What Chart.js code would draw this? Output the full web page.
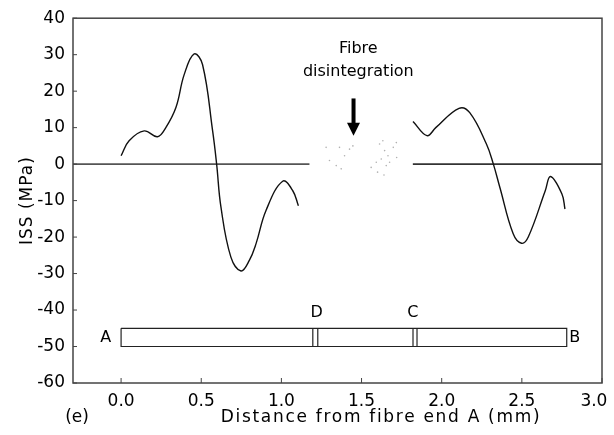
<!DOCTYPE html>
<html>
<head>
<meta charset="utf-8">
<script src="https://cdn.jsdelivr.net/npm/chart.js@4.4.1/dist/chart.umd.min.js"></script>
<style>
  body { margin: 0; background: #fff; }
</style>
</head>
<body>
<canvas id="myChart" width="614" height="435"></canvas>
<script>
// curve left of the break (distance in mm, ISS in MPa)
const leftX = [0.0, 0.05, 0.144, 0.227, 0.279, 0.342, 0.394, 0.456, 0.508, 0.571, 0.596, 0.623, 0.685, 0.748, 0.80, 0.842, 0.904, 1.008, 1.071, 1.106];
const leftY = [2.3, 6.4, 9.1, 7.5, 10.0, 15.5, 24.6, 30.2, 27.3, 9.1, 0, -11.8, -25.5, -29.3, -26.4, -21.8, -12.7, -4.7, -7.3, -11.4];

// curve right of the break
const rightX = [1.821, 1.908, 1.963, 2.108, 2.175, 2.279, 2.321, 2.363, 2.446, 2.498, 2.54, 2.646, 2.679, 2.75, 2.769];
const rightY = [11.7, 7.8, 10.0, 15.3, 14.1, 5.5, 0.2, -6.4, -19.1, -21.7, -20.0, -7.3, -3.4, -8.2, -12.3];

// faint debris where the fibre broke up
const debrisX = [1.279, 1.3625, 1.394, 1.446, 1.425, 1.342, 1.373, 1.30, 1.6125, 1.644, 1.665, 1.623, 1.698, 1.719, 1.592, 1.654, 1.633, 1.675, 1.56, 1.717, 1.64, 1.60];
const debrisY = [4.6, 4.6, 2.3, 5.0, 4.1, -0.4, -1.3, 1.0, 5.5, 3.7, 2.3, 1.4, 4.6, 1.8, 0.5, -0.4, 6.4, 0.5, -0.9, 5.9, -3.0, -2.2];

// zero line pieces
const zeroLeft = [-0.3, 1.175];
const zeroRight = [1.82, 3.0];

// fibre sketch
const fibreX = [0, 2.78];
const fibreY = [-45, -50];
const markD = [1.196, 1.227];
const markC = [1.821, 1.846];

const xTicks = [0.0, 0.5, 1.0, 1.5, 2.0, 2.5, 3.0];
const yTicks = [-60, -50, -40, -30, -20, -10, 0, 10, 20, 30, 40];

const arrowX = 1.45;
const arrowY = [18, 7.8];

const FONT = "'DejaVu Sans', sans-serif";

function pts(xs, ys) {
  var out = [];
  for (var i = 0; i < xs.length; i++) {
    out.push({x: xs[i], y: ys[i]});
  }
  return out;
}

function vline(x) {
  return [{x: x, y: fibreY[0]}, {x: x, y: fibreY[1]}];
}

var straight = {showLine: true, pointRadius: 0, borderColor: '#222', borderWidth: 1.2, tension: 0};

var datasets = [
  {data: pts(leftX, leftY), showLine: true, pointRadius: 0, borderColor: '#111', borderWidth: 1.4, tension: 0.4},
  {data: pts(rightX, rightY), showLine: true, pointRadius: 0, borderColor: '#111', borderWidth: 1.4, tension: 0.4},
  Object.assign({data: [{x: zeroLeft[0], y: 0}, {x: zeroLeft[1], y: 0}]}, straight, {borderColor: '#555', borderWidth: 1.6}),
  Object.assign({data: [{x: zeroRight[0], y: 0}, {x: zeroRight[1], y: 0}]}, straight, {borderColor: '#333', borderWidth: 1.6}),
  Object.assign({data: [
    {x: fibreX[0], y: fibreY[0]}, {x: fibreX[1], y: fibreY[0]},
    {x: fibreX[1], y: fibreY[1]}, {x: fibreX[0], y: fibreY[1]},
    {x: fibreX[0], y: fibreY[0]}
  ]}, straight),
  Object.assign({data: vline(markD[0])}, straight),
  Object.assign({data: vline(markD[1])}, straight),
  Object.assign({data: vline(markC[0])}, straight),
  Object.assign({data: vline(markC[1])}, straight),
  {data: pts(debrisX, debrisY), showLine: false, pointRadius: 0.8, borderWidth: 0, backgroundColor: '#b0b0b0'}
];

// labels, arrow, frame and inward ticks
var extras = {
  id: 'extras',
  afterDraw: function(chart) {
    var ctx = chart.ctx;
    var xs = chart.scales.x, ys = chart.scales.y;
    var a = chart.chartArea;
    ctx.save();

    // frame
    ctx.strokeStyle = '#444';
    ctx.lineWidth = 1.5;
    ctx.strokeRect(a.left, a.top, a.right - a.left, a.bottom - a.top);

    // inward ticks
    ctx.lineWidth = 1;
    xTicks.forEach(function(v) {
      var px = xs.getPixelForValue(v);
      ctx.beginPath(); ctx.moveTo(px, a.bottom); ctx.lineTo(px, a.bottom - 5); ctx.stroke();
    });
    yTicks.forEach(function(v) {
      var py = ys.getPixelForValue(v);
      ctx.beginPath(); ctx.moveTo(a.left, py); ctx.lineTo(a.left + 4, py); ctx.stroke();
    });

    // arrow
    var ax = xs.getPixelForValue(arrowX);
    var y0 = ys.getPixelForValue(arrowY[0]);
    var y1 = ys.getPixelForValue(arrowY[1]);
    ctx.fillStyle = '#000';
    ctx.fillRect(ax - 2, y0, 4, y1 - y0 - 11);
    ctx.beginPath();
    ctx.moveTo(ax - 6.5, y1 - 13);
    ctx.lineTo(ax + 6.5, y1 - 13);
    ctx.lineTo(ax, y1);
    ctx.closePath();
    ctx.fill();

    // text
    ctx.fillStyle = '#000';
    ctx.textAlign = 'center';
    ctx.textBaseline = 'middle';
    ctx.font = '16px ' + FONT;
    ctx.fillText('Fibre', xs.getPixelForValue(1.48), ys.getPixelForValue(31.5));
    ctx.fillText('disintegration', xs.getPixelForValue(1.48), ys.getPixelForValue(25.2));

    ctx.font = '16px ' + FONT;
    ctx.fillText('A', xs.getPixelForValue(-0.096), ys.getPixelForValue(-47.5));
    ctx.fillText('B', xs.getPixelForValue(2.83), ys.getPixelForValue(-47.5));
    ctx.fillText('D', xs.getPixelForValue(1.22), ys.getPixelForValue(-40.9));
    ctx.fillText('C', xs.getPixelForValue(1.82), ys.getPixelForValue(-40.9));

    // axis titles
    ctx.font = '17px ' + FONT;
    ctx.letterSpacing = '1.7px';
    ctx.fillText('Distance from fibre end A (mm)', 381, 418);
    ctx.letterSpacing = '0px';
    ctx.fillText('(e)', 77, 418);
    ctx.translate(28, (a.top + a.bottom) / 2);
    ctx.rotate(-Math.PI / 2);
    ctx.letterSpacing = '1px';
    ctx.fillText('ISS (MPa)', 0, 0);
    ctx.restore();
  }
};

new Chart(document.getElementById('myChart'), {
  type: 'scatter',
  data: {datasets: datasets},
  options: {
    responsive: false,
    animation: false,
    layout: {padding: {top: 16, right: 12, left: 0, bottom: 0}},
    plugins: {legend: {display: false}, tooltip: {enabled: false}},
    scales: {
      x: {
        type: 'linear',
        min: -0.3,
        max: 3.0,
        grid: {display: false, drawTicks: false},
        border: {display: false},
        afterBuildTicks: function(scale) {
          scale.ticks = xTicks.map(function(v) { return {value: v}; });
        },
        afterFit: function(scale) {
          scale.height = 52;
          scale.paddingLeft = 0;
          scale.paddingRight = 0;
        },
        ticks: {
          color: '#000',
          padding: 8,
          font: {family: FONT, size: 17},
          callback: function(v) {
            var s = Number(v).toFixed(1);
            // last label sits left of the corner, as in the original
            return v === 3 ? s + '\u00a0\u00a0\u00a0' : s;
          }
        }
      },
      y: {
        type: 'linear',
        min: -60,
        max: 40,
        grid: {display: false, drawTicks: false},
        border: {display: false},
        afterBuildTicks: function(scale) {
          scale.ticks = yTicks.map(function(v) { return {value: v}; });
        },
        afterFit: function(scale) { scale.width = 73; },
        ticks: {
          color: '#000',
          padding: 8,
          font: {family: FONT, size: 17},
          callback: function(v) { return String(v); }
        }
      }
    }
  },
  plugins: [extras]
});
</script>
</body>
</html>
